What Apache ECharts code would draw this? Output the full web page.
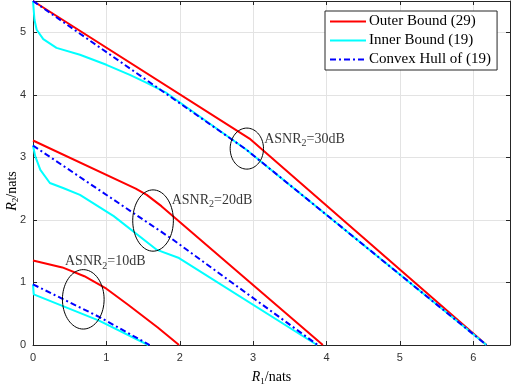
<!DOCTYPE html>
<html>
<head>
<meta charset="utf-8">
<script src="https://cdn.jsdelivr.net/npm/echarts@6/dist/echarts.min.js"></script>
<style>
  html, body { margin: 0; padding: 0; background: #fff; }
  #chart { width: 512px; height: 384px; }
</style>
</head>
<body>
<div id="chart"></div>
<script>
// Rate region curves, [R1, R2] in nats
const outer30 = [[0, 5.5], [2.95, 3.3], [6.18, 0]];
const inner30 = [[0, 5.5], [0.02, 5.2], [0.05, 5.04], [0.14, 4.89], [0.32, 4.75], [0.64, 4.64], [1.0, 4.48], [1.32, 4.32], [1.55, 4.19], [1.82, 4.03], [2.9, 3.13], [6.18, 0]];
const hull30 = [[0, 5.5], [2.9, 3.13], [6.18, 0]];

const outer20 = [[0, 3.27], [1.4, 2.5], [1.55, 2.4], [1.75, 2.22], [3.95, 0]];
const inner20 = [[0, 3.19], [0.03, 3.02], [0.1, 2.8], [0.23, 2.59], [0.41, 2.51], [0.64, 2.4], [1.1, 2.06], [1.69, 1.52], [1.99, 1.39], [3.87, 0]];
const hull20 = [[0, 3.19], [1.9, 1.69], [3.88, 0]];

const outer10 = [[0, 1.35], [0.4, 1.24], [0.7, 1.1], [1.0, 0.9], [1.3, 0.64], [1.7, 0.28], [1.99, 0]];
const inner10 = [[0, 0.97], [0.01, 0.81], [0.9, 0.39], [1.57, 0]];
const hull10 = [[0, 0.97], [0.9, 0.45], [1.59, 0]];

// ellipse markers: [cx, cy, rx, ry]
const ellipses = [[0.685, 0.73, 0.284, 0.475], [1.636, 1.99, 0.277, 0.49], [2.914, 3.14, 0.227, 0.328]];
// annotation anchors and text
const notePos = [[0.436, 1.33], [1.89, 2.32], [3.15, 3.29]];
const noteDb = ['10dB', '20dB', '30dB'];

const legendNames = ['Outer Bound (29)', 'Inner Bound (19)', 'Convex Hull of (19)'];
const xTicks = { min: 0, max: 6.5, interval: 1 };
const yTicks = { min: 0, max: 5.5, interval: 1 };

const serif = '"Liberation Serif", "DejaVu Serif", serif';
const sans = '"Liberation Sans", Arial, sans-serif';
const axisColor = '#262626';

const chart = echarts.init(document.getElementById('chart'), null, { renderer: 'canvas' });

const lineSeries = (name, data, color, type) => ({
    name: name,
    type: 'line',
    data: data,
    symbol: 'none',
    animation: false,
    lineStyle: { color: color, width: 2, type: type || 'solid' },
    itemStyle: { color: color },
    z: 3
});

const red = '#ff0000', cyan = '#00ffff', blue = '#0000ff';
const dashDot = [6, 3, 2, 3];

const nameRich = () => ({
    i: { fontFamily: serif, fontStyle: 'italic', fontSize: 14, fill: '#000', color: '#000' },
    s: { fontFamily: serif, fontSize: 9, fill: '#000', color: '#000', padding: [8, 0, 0, 0] },
    n: { fontFamily: serif, fontSize: 14, fill: '#000', color: '#000' }
});

const mainAxisX = {
    type: 'value', min: xTicks.min, max: xTicks.max, interval: xTicks.interval,
    position: 'bottom',
    axisLine: { show: true, lineStyle: { color: axisColor, width: 1 } },
    axisTick: { show: true, inside: true, length: 4, lineStyle: { color: axisColor } },
    axisLabel: {
        color: '#333', fontFamily: sans, fontSize: 11, margin: 7,
        formatter: v => (v > 6 ? '' : String(v))
    },
    splitLine: { show: true, lineStyle: { color: '#e3e3e3', width: 1 } },
    name: '{i|R}{s|1}{n|/nats}',
    nameLocation: 'middle', nameGap: 24,
    nameTextStyle: { rich: nameRich() }
};
const mainAxisY = {
    type: 'value', min: yTicks.min, max: yTicks.max, interval: yTicks.interval,
    position: 'left',
    axisLine: { show: true, lineStyle: { color: axisColor, width: 1 } },
    axisTick: { show: true, inside: true, length: 4, lineStyle: { color: axisColor } },
    axisLabel: {
        color: '#333', fontFamily: sans, fontSize: 11, margin: 7,
        formatter: v => (v > 5 ? '' : String(v))
    },
    splitLine: { show: true, lineStyle: { color: '#e3e3e3', width: 1 } }
};
const mirror = (pos, t) => ({
    type: 'value', min: t.min, max: t.max, interval: t.interval,
    position: pos,
    axisLine: { show: true, onZero: false, lineStyle: { color: axisColor, width: 1 } },
    axisTick: { show: true, inside: true, length: 4, lineStyle: { color: axisColor } },
    axisLabel: { show: false },
    splitLine: { show: false }
});

chart.setOption({
    animation: false,
    backgroundColor: '#fff',
    grid: { left: 33, right: 2, top: 1, bottom: 39, containLabel: false, outerBoundsMode: 'none' },
    xAxis: [mainAxisX, mirror('top', xTicks)],
    yAxis: [mainAxisY, mirror('right', yTicks)],
    // y-axis title sits a little below the axis middle, as in the original figure
    graphic: [{
        type: 'text',
        x: 12, y: 191,
        rotation: Math.PI / 2,
        style: {
            text: '{i|R}{s|2}{n|/nats}',
            rich: nameRich(),
            align: 'center', verticalAlign: 'middle'
        }
    }],
    legend: {
        data: legendNames,
        orient: 'vertical',
        left: 325, top: 11,
        itemWidth: 36, itemHeight: 12, itemGap: 4,
        padding: [3, 6, 3, 4],
        backgroundColor: '#fff',
        borderColor: axisColor, borderWidth: 1,
        itemStyle: { opacity: 0 },
        textStyle: { fontFamily: serif, fontSize: 15, color: '#000', padding: [0, 0, 0, -2] }
    },
    series: [
        lineSeries(legendNames[0], outer30, red),
        lineSeries(legendNames[1], inner30, cyan),
        lineSeries(legendNames[2], hull30, blue, dashDot),
        lineSeries(legendNames[0], outer20, red),
        lineSeries(legendNames[1], inner20, cyan),
        lineSeries(legendNames[2], hull20, blue, dashDot),
        lineSeries(legendNames[0], outer10, red),
        lineSeries(legendNames[1], inner10, cyan),
        lineSeries(legendNames[2], hull10, blue, dashDot),
        {
            type: 'custom',
            data: ellipses,
            silent: true,
            z: 4,
            renderItem: (params, api) => {
                const c = api.coord([api.value(0), api.value(1)]);
                const s = api.size([api.value(2), api.value(3)]);
                const pts = [];
                for (let k = 0; k <= 72; k++) {
                    const a = (k / 72) * Math.PI * 2;
                    pts.push([c[0] + s[0] * Math.cos(a), c[1] + s[1] * Math.sin(a)]);
                }
                return {
                    type: 'polyline',
                    shape: { points: pts },
                    style: { stroke: '#000', lineWidth: 1, fill: null }
                };
            }
        },
        {
            type: 'scatter',
            data: notePos.map((p, i) => ({ value: p, db: noteDb[i] })),
            symbolSize: 0,
            silent: true,
            z: 5,
            label: {
                show: true,
                position: 'right',
                distance: 0,
                formatter: p => '{a|ASNR}{s|2}{a|=' + p.data.db + '}',
                rich: {
                    a: { fontFamily: serif, fontSize: 14, color: '#000' },
                    s: { fontFamily: serif, fontSize: 10, color: '#000', padding: [9, 0, 0, 0] }
                }
            }
        }
    ]
});
</script>
</body>
</html>
